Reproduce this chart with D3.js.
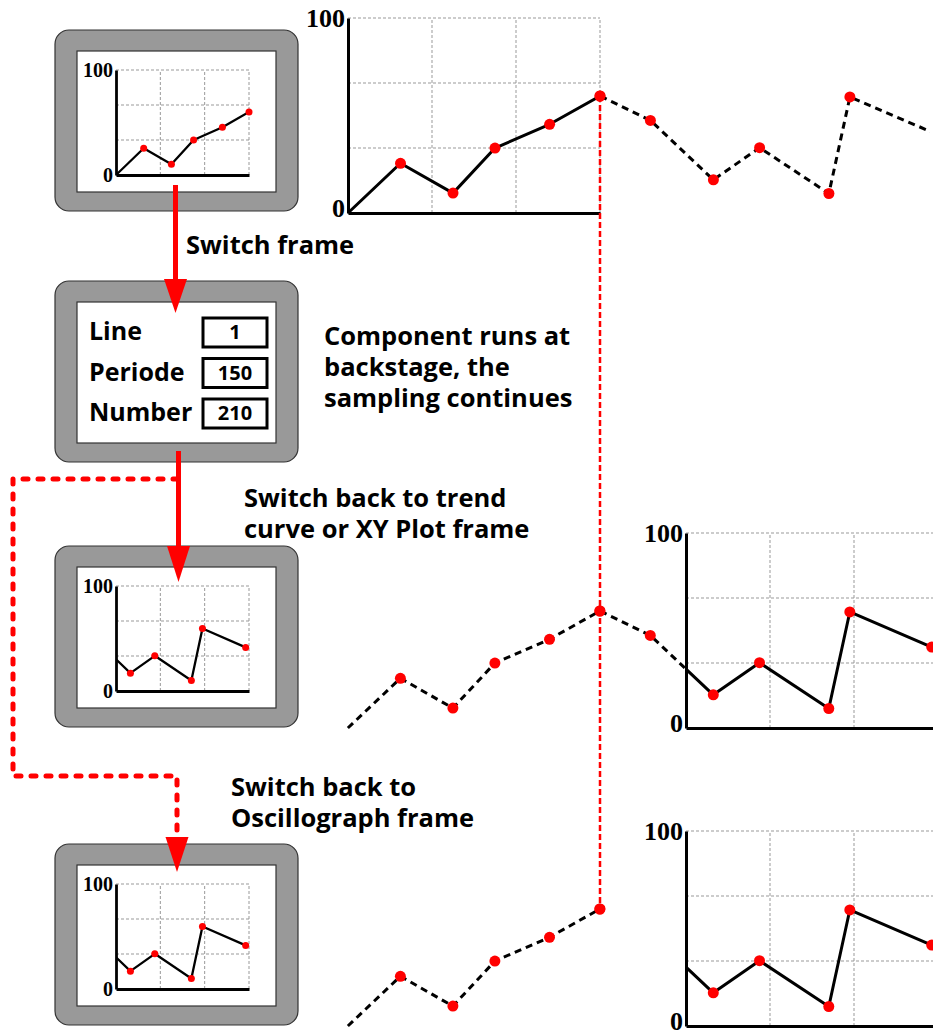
<!DOCTYPE html>
<html>
<head>
<meta charset="utf-8">
<script src="https://cdn.jsdelivr.net/npm/d3@7"></script>
<style>
  body { margin: 0; background: #fff; }
  svg { display: block; }
</style>
</head>
<body>
<script>
// sampled signal: time (grid units, 12 per plot width) and value (0..100)
const sampleTimes  = [0, 2.5, 5, 7, 9.6, 12, 14.4, 17.4, 19.6, 22.9, 23.9, 27.8];
const sampleValues = [0, 25.5, 10.2, 33.3, 45.5, 60, 47.5, 17, 33.5, 10, 59.5, 41.5];
const yTicks = [0, 100];
const firstWindow = [0, 12];
const laterWindow = [16.1, 28.1];

const paramLabels = ["Line", "Periode", "Number"];
const paramValues = ["1", "150", "210"];

const captionSwitch = ["Switch frame"];
const captionBackstage = ["Component runs at", "backstage, the", "sampling continues"];
const captionTrend = ["Switch back to trend", "curve or XY Plot frame"];
const captionOsc = ["Switch back to", "Oscillograph frame"];

const points = sampleTimes.map((t, i) => ({ t: t, v: sampleValues[i] }));

const svg = d3.select("body").append("svg").attr("width", 933).attr("height", 1030);
const defs = svg.append("defs");
let clipCount = 0;

function clipRect(x0, x1) {
  const id = "clip" + (clipCount++);
  defs.append("clipPath").attr("id", id)
    .append("rect").attr("x", x0).attr("y", 0).attr("width", x1 - x0).attr("height", 1030);
  return "url(#" + id + ")";
}

// a framed plot with grid, solid series and the 0 / 100 axis
function drawPlot(layer, o) {
  const x = d3.scaleLinear().domain(o.domain).range([o.left, o.left + o.width]);
  const y = d3.scaleLinear().domain([0, 100]).range([o.top + o.height, o.top]);
  const g = layer.append("g");
  const span = o.domain[1] - o.domain[0];

  g.selectAll(".vg").data([1, 2, 3]).join("line")
    .attr("x1", d => x(o.domain[0] + span * d / 3)).attr("x2", d => x(o.domain[0] + span * d / 3))
    .attr("y1", y(0)).attr("y2", y(100))
    .attr("stroke", "#999").attr("stroke-width", 1).attr("stroke-dasharray", "3,2");
  g.selectAll(".hg").data([100 / 3, 200 / 3, 100]).join("line")
    .attr("x1", x(o.domain[0])).attr("x2", x(o.domain[1]))
    .attr("y1", d => y(d)).attr("y2", d => y(d))
    .attr("stroke", "#999").attr("stroke-width", 1).attr("stroke-dasharray", "3,2");

  const line = d3.line().x(d => x(d.t)).y(d => y(d.v));
  g.append("path").datum(points)
    .attr("clip-path", clipRect(o.left, o.left + o.width))
    .attr("d", line).attr("fill", "none")
    .attr("stroke", "#000").attr("stroke-width", o.lineWidth).attr("stroke-linejoin", "round");

  g.selectAll(".dot").data(points.filter(d => d.t > o.domain[0] && d.t <= o.domain[1]))
    .join("circle")
    .attr("cx", d => x(d.t)).attr("cy", d => y(d.v)).attr("r", o.dotR).attr("fill", "#f00");

  const ay = g.append("g").attr("transform", `translate(${o.left},0)`)
    .call(d3.axisLeft(y).tickValues(yTicks).tickSize(0).tickSizeOuter(0).tickPadding(3));
  ay.select(".domain").attr("stroke", "#000").attr("stroke-width", o.axisWidth);
  ay.selectAll("text").attr("font-family", "Liberation Serif, serif").attr("font-weight", "bold")
    .attr("font-size", o.fontSize).attr("fill", "#000")
    .attr("y", d => d === 0 ? o.zeroShift : 0);

  const ax = g.append("g").attr("transform", `translate(0,${y(0)})`)
    .call(d3.axisBottom(x).tickValues([]).tickSizeOuter(0));
  ax.select(".domain").attr("stroke", "#000").attr("stroke-width", o.axisWidth);
  return { x: x, y: y };
}

// series continuation outside a plot (dashed), with sample dots
function drawTrail(layer, x, y, x0, x1, dotFilter) {
  const line = d3.line().x(d => x(d.t)).y(d => y(d.v));
  layer.append("path").datum(points)
    .attr("clip-path", clipRect(x0, x1))
    .attr("d", line).attr("fill", "none")
    .attr("stroke", "#000").attr("stroke-width", 3).attr("stroke-dasharray", "7,5");
  layer.selectAll(null).data(points.filter(dotFilter)).join("circle")
    .attr("cx", d => x(d.t)).attr("cy", d => y(d.v)).attr("r", 5.5).attr("fill", "#f00");
}

// devices (grey frames)
const devTops = [30, 281, 546, 844];
const devices = svg.append("g");
devTops.forEach(t0 => {
  devices.append("rect").attr("x", 55).attr("y", t0).attr("width", 243).attr("height", 181)
    .attr("rx", 14).attr("fill", "#999").attr("stroke", "#333").attr("stroke-width", 1.2);
  devices.append("rect").attr("x", 77).attr("y", t0 + 21).attr("width", 199).attr("height", 141)
    .attr("fill", "#fff").attr("stroke", "#333").attr("stroke-width", 1.2);
});

const small = { left: 116, width: 133, height: 105, lineWidth: 2.3, dotR: 3.5, fontSize: 20, axisWidth: 2.8, zeroShift: 0 };
drawPlot(svg, Object.assign({}, small, { top: devTops[0] + 40, domain: firstWindow }));
drawPlot(svg, Object.assign({}, small, { top: devTops[2] + 40, domain: laterWindow }));
drawPlot(svg, Object.assign({}, small, { top: devTops[3] + 40, domain: laterWindow }));

// parameter frame
const pg = svg.append("g");
paramLabels.forEach((lab, i) => {
  pg.append("text").attr("x", 89).attr("y", devTops[1] + 59 + i * 40.5).text(lab)
    .attr("font-family", "Open Sans, sans-serif").attr("font-weight", 700).attr("font-size", 25);
  pg.append("rect").attr("x", 203).attr("y", devTops[1] + 37 + i * 40.5).attr("width", 64).attr("height", 29)
    .attr("fill", "#fff").attr("stroke", "#000").attr("stroke-width", 3);
  pg.append("text").attr("x", 235).attr("y", devTops[1] + 58 + i * 40.5).text(paramValues[i])
    .attr("text-anchor", "middle")
    .attr("font-family", "Open Sans, sans-serif").attr("font-weight", 700).attr("font-size", 20);
});

// big plots
const big = { width: 252, height: 195, lineWidth: 3, dotR: 5.5, fontSize: 26, axisWidth: 3, zeroShift: -5 };
const rowTop = drawPlot(svg, Object.assign({}, big, { left: 348, top: 18, domain: firstWindow }));
drawTrail(svg, rowTop.x, rowTop.y, 600, 930, d => d.t > 12 && d.t < 25);

const rowMid = drawPlot(svg, Object.assign({}, big, { left: 686, top: 533, domain: laterWindow }));
drawTrail(svg, rowMid.x, rowMid.y, 0, 686, d => d.t > 0 && d.t < 16.1);

const rowBot = drawPlot(svg, Object.assign({}, big, { left: 686, top: 831, domain: laterWindow }));
drawTrail(svg, rowBot.x, rowBot.y, 0, 600, d => d.t > 0 && d.t <= 12);

// red dotted marker at the switching moment
const tSwitch = sampleTimes[5];
svg.append("line")
  .attr("x1", rowTop.x(tSwitch)).attr("x2", rowTop.x(tSwitch))
  .attr("y1", rowTop.y(sampleValues[5])).attr("y2", rowBot.y(sampleValues[5]))
  .attr("stroke", "#f00").attr("stroke-width", 2.5).attr("stroke-dasharray", "6,3");
[rowTop, rowMid, rowBot].forEach(s => {
  svg.append("circle").attr("cx", s.x(tSwitch)).attr("cy", s.y(sampleValues[5])).attr("r", 5.5).attr("fill", "#f00");
});

// arrows
const arrows = svg.append("g");
function head(x, y0, y1) {
  arrows.append("path").attr("d", `M${x - 11.5},${y0}L${x + 11.5},${y0}L${x},${y1}Z`).attr("fill", "#f00");
}
arrows.append("line").attr("x1", 175.5).attr("x2", 175.5).attr("y1", 185).attr("y2", 282)
  .attr("stroke", "#f00").attr("stroke-width", 5);
head(175.5, 279, 313);
arrows.append("line").attr("x1", 178.5).attr("x2", 178.5).attr("y1", 451).attr("y2", 549)
  .attr("stroke", "#f00").attr("stroke-width", 5);
head(178.5, 546, 582);
arrows.append("path").attr("d", "M178,479H13V776H177V838")
  .attr("fill", "none").attr("stroke", "#f00").attr("stroke-width", 5)
  .attr("stroke-linecap", "round").attr("stroke-dasharray", "5,10");
head(177, 837, 872);

// captions
function caption(lines, x, y0) {
  const t = svg.append("text").attr("font-family", "Open Sans, sans-serif")
    .attr("font-weight", 700).attr("font-size", 25.5).attr("fill", "#000");
  lines.forEach((s, i) => t.append("tspan").attr("x", x).attr("y", y0 + i * 31).text(s));
}
caption(captionSwitch, 186, 254);
caption(captionBackstage, 324, 345);
caption(captionTrend, 244, 507);
caption(captionOsc, 231, 796);
</script>
</body>
</html>
